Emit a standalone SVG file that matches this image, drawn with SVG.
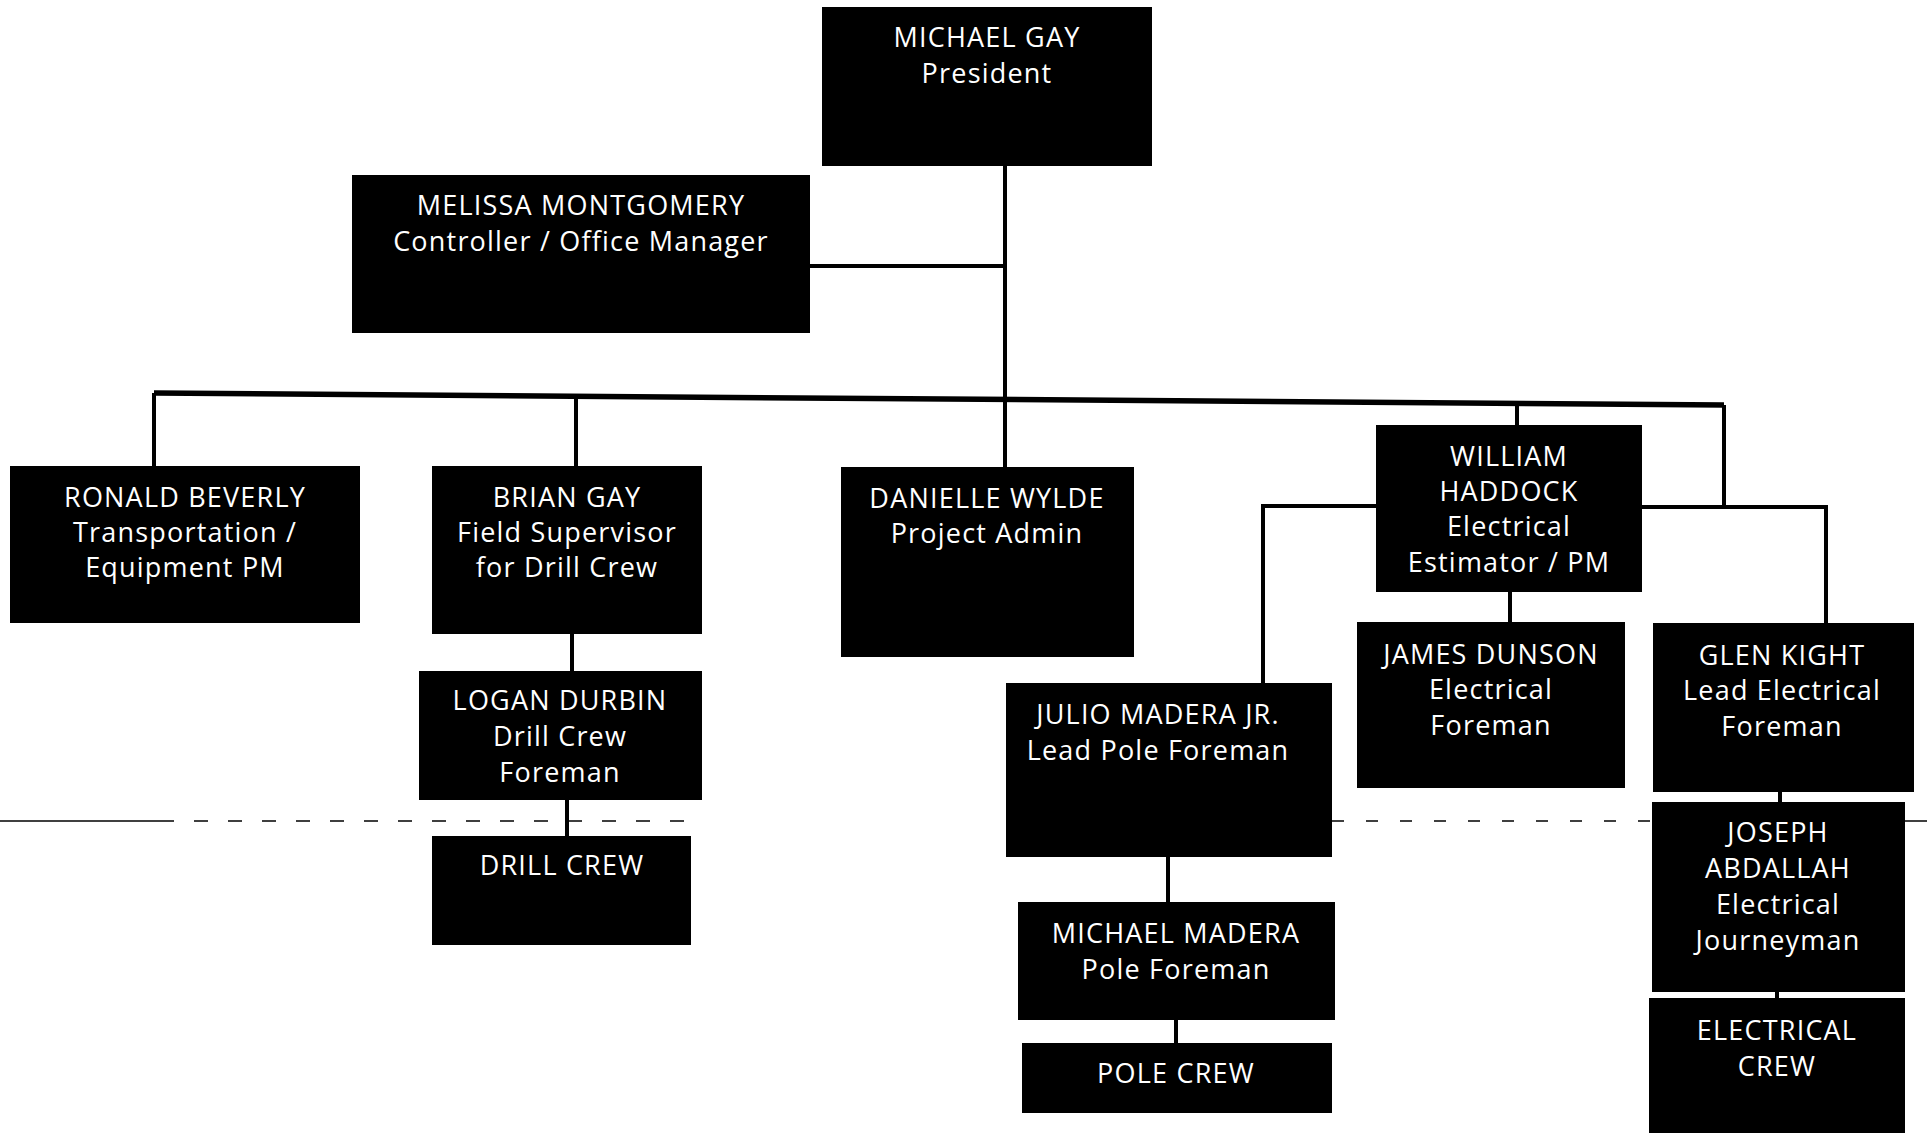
<svg xmlns="http://www.w3.org/2000/svg" width="1927" height="1133" viewBox="0 0 1927 1133">
<style>
.box{fill:#000;}
.t{fill:#fff;font-family:"Open Sans","DejaVu Sans",sans-serif;font-size:27px;letter-spacing:1.2px;text-anchor:middle;}
.c{stroke:#000;stroke-width:4;fill:none;}
.m{stroke:#000;stroke-width:5.5;fill:none;}
.d{stroke:#000;stroke-width:1.5;fill:none;}
</style>
<rect width="1927" height="1133" fill="#fff"/>
<g id="scan-line">
<path class="d" d="M0 821H160"/>
<path class="d" d="M160 821H700" stroke-dasharray="14 20"/>
<path class="d" d="M1332 821H1650" stroke-dasharray="12 22"/>
<path class="d" d="M1905 821H1927"/>
</g>
<g id="connectors">
<path class="m" d="M154 393L1724 405"/>
<path class="c" d="M1005 166V467"/>
<path class="c" d="M810 266H1005"/>
<path class="c" d="M154 393V466"/>
<path class="c" d="M576 396V466"/>
<path class="c" d="M1517 404V425"/>
<path class="c" d="M1724 405V507"/>
<path class="c" d="M1263 683V506H1376"/>
<path class="c" d="M1642 507H1826V623"/>
<path class="c" d="M1510 592V622"/>
<path class="c" d="M572 634V671"/>
<path class="c" d="M567 800V836"/>
<path class="c" d="M1168 857V902"/>
<path class="c" d="M1176 1020V1043"/>
<path class="c" d="M1780 792V802"/>
<path class="c" d="M1777 992V998"/>
</g>
<g id="michael-gay"><rect class="box" x="822" y="7" width="330" height="159"/>
<text class="t" x="987" y="47">MICHAEL GAY</text><text class="t" x="987" y="83">President</text></g>
<g id="melissa-montgomery"><rect class="box" x="352" y="175" width="458" height="158"/>
<text class="t" x="581" y="215">MELISSA MONTGOMERY</text><text class="t" x="581" y="251">Controller / Office Manager</text></g>
<g id="ronald-beverly"><rect class="box" x="10" y="466" width="350" height="157"/>
<text class="t" x="185" y="507">RONALD BEVERLY</text><text class="t" x="185" y="542">Transportation /</text><text class="t" x="185" y="577">Equipment PM</text></g>
<g id="brian-gay"><rect class="box" x="432" y="466" width="270" height="168"/>
<text class="t" x="567" y="507">BRIAN GAY</text><text class="t" x="567" y="542">Field Supervisor</text><text class="t" x="567" y="577">for Drill Crew</text></g>
<g id="danielle-wylde"><rect class="box" x="841" y="467" width="293" height="190"/>
<text class="t" x="987" y="508">DANIELLE WYLDE</text><text class="t" x="987" y="543">Project Admin</text></g>
<g id="william-haddock"><rect class="box" x="1376" y="425" width="266" height="167"/>
<text class="t" x="1509" y="466">WILLIAM</text><text class="t" x="1509" y="501">HADDOCK</text><text class="t" x="1509" y="536">Electrical</text><text class="t" x="1509" y="572">Estimator / PM</text></g>
<g id="logan-durbin"><rect class="box" x="419" y="671" width="283" height="129"/>
<text class="t" x="560" y="710">LOGAN DURBIN</text><text class="t" x="560" y="746">Drill Crew</text><text class="t" x="560" y="782">Foreman</text></g>
<g id="drill-crew"><rect class="box" x="432" y="836" width="259" height="109"/>
<text class="t" x="562" y="875">DRILL CREW</text></g>
<g id="julio-madera"><rect class="box" x="1006" y="683" width="326" height="174"/>
<text class="t" x="1158" y="724">JULIO MADERA JR.</text><text class="t" x="1158" y="760">Lead Pole Foreman</text></g>
<g id="james-dunson"><rect class="box" x="1357" y="622" width="268" height="166"/>
<text class="t" x="1491" y="664">JAMES DUNSON</text><text class="t" x="1491" y="699">Electrical</text><text class="t" x="1491" y="735">Foreman</text></g>
<g id="glen-kight"><rect class="box" x="1653" y="623" width="261" height="169"/>
<text class="t" x="1782" y="665">GLEN KIGHT</text><text class="t" x="1782" y="700">Lead Electrical</text><text class="t" x="1782" y="736">Foreman</text></g>
<g id="joseph-abdallah"><rect class="box" x="1652" y="802" width="253" height="190"/>
<text class="t" x="1778" y="842">JOSEPH</text><text class="t" x="1778" y="878">ABDALLAH</text><text class="t" x="1778" y="914">Electrical</text><text class="t" x="1778" y="950">Journeyman</text></g>
<g id="electrical-crew"><rect class="box" x="1649" y="998" width="256" height="135"/>
<text class="t" x="1777" y="1040">ELECTRICAL</text><text class="t" x="1777" y="1076">CREW</text></g>
<g id="michael-madera"><rect class="box" x="1018" y="902" width="317" height="118"/>
<text class="t" x="1176" y="943">MICHAEL MADERA</text><text class="t" x="1176" y="979">Pole Foreman</text></g>
<g id="pole-crew"><rect class="box" x="1022" y="1043" width="310" height="70"/>
<text class="t" x="1176" y="1083">POLE CREW</text></g>
</svg>
